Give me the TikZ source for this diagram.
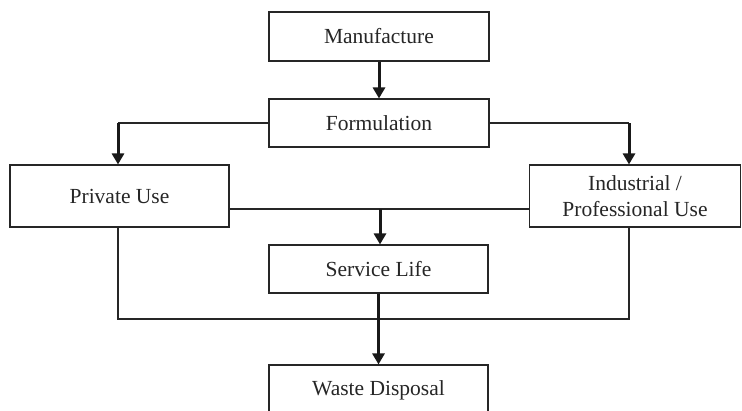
\documentclass[tikz,border=0pt]{standalone}
\usepackage{fontspec}
\setmainfont{Liberation Serif}
\usetikzlibrary{arrows.meta}
\tikzset{
  box/.style={draw=black!85, line width=1.1pt, fill=white, inner sep=0pt, align=center,
    font=\fontsize{21.5}{26}\selectfont, text=black!85},
  thinline/.style={draw=black!85, line width=1.1pt},
  arr/.style={draw=black!90, line width=3pt, -{Triangle[length=11pt,width=12pt]}, shorten >=0pt},
}
\begin{document}
\begin{tikzpicture}[x=1pt,y=-1pt]
\useasboundingbox (0,0) rectangle (742,410);
\clip (0,0) rectangle (742,410);
% coordinates
\coordinate (fl) at (118,123);
\coordinate (fr) at (629,123);
\coordinate (mid) at (380,209);
\coordinate (bl) at (118,319);
\coordinate (br) at (629,319);
% thin connector lines first
\draw[thinline] (269,123) -- (fl);
\draw[thinline] (489,123) -- (fr);
\draw[thinline] (229,209) -- (530,209);
\draw[thinline] (118,227) -- (bl) -- (br) -- (629,227);
% boxes
\node[box, minimum width=220pt, minimum height=49pt] (manu) at (379,36.5) {Manufacture};
\node[box, minimum width=220pt, minimum height=48pt] (form) at (379,123) {Formulation};
\node[box, minimum width=219pt, minimum height=62pt] (priv) at (119.5,196) {Private Use};
\node[box, minimum width=211pt, minimum height=62pt] (ind) at (635,196) {Industrial /\\Professional Use};
\node[box, minimum width=219pt, minimum height=48pt] (serv) at (378.5,269) {Service Life};
\node[box, minimum width=219pt, minimum height=50pt] (waste) at (378.5,390) {Waste Disposal};
% arrows
\draw[arr] (manu.south) -- (manu.south |- form.north);
\draw[arr] (fl) -- (fl |- priv.north);
\draw[arr] (fr) -- (fr |- ind.north);
\draw[arr] (mid) -- (mid |- serv.north);
\draw[arr] (serv.south) -- (serv.south |- waste.north);
\end{tikzpicture}
\end{document}
